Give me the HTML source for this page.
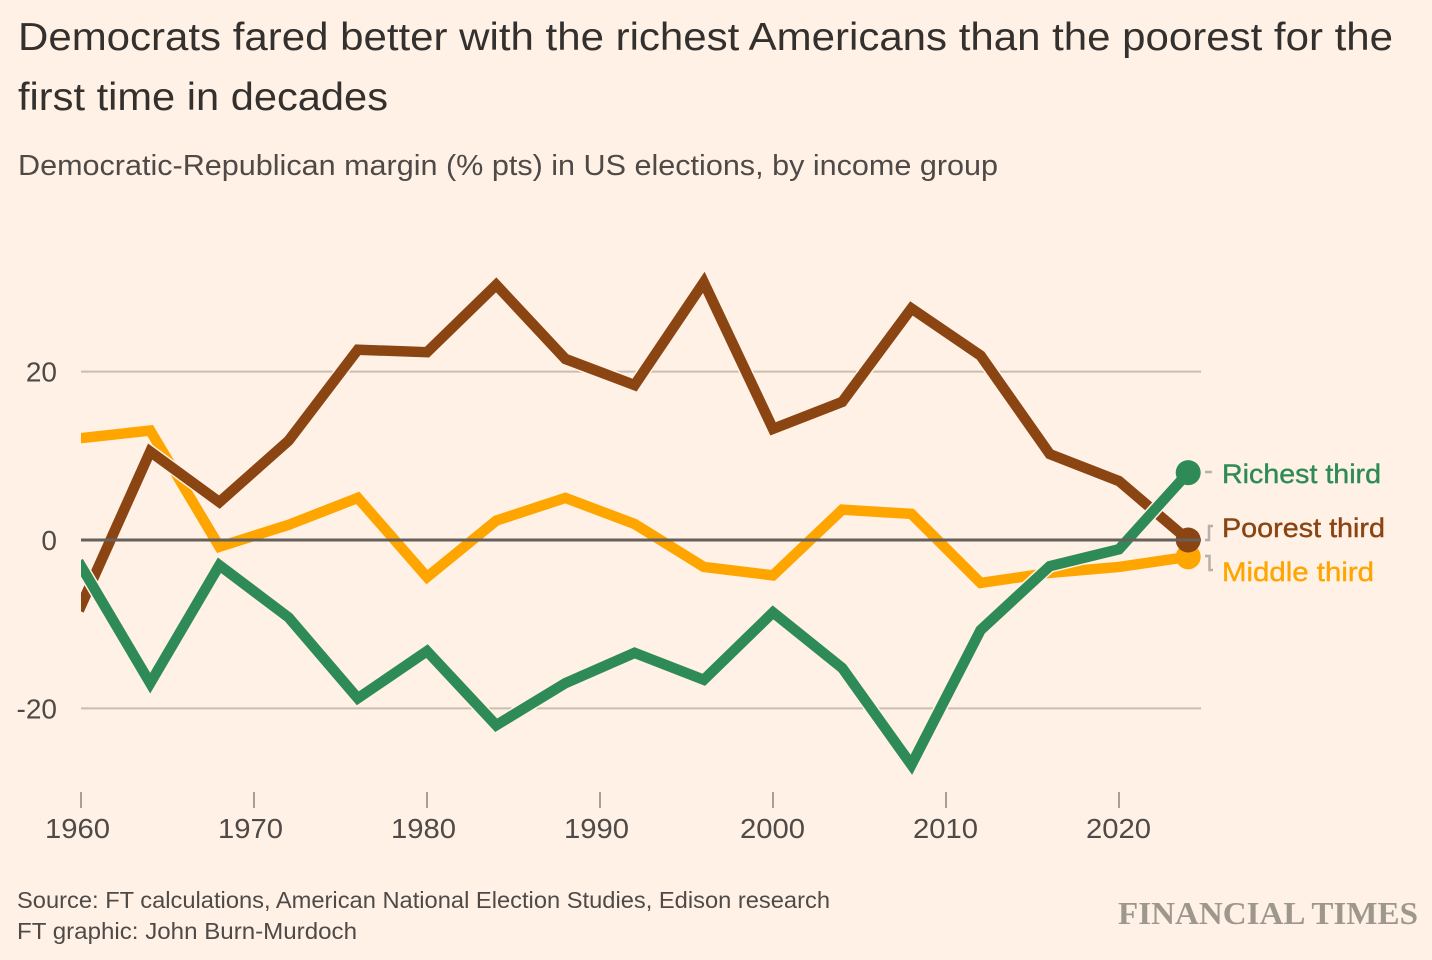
<!DOCTYPE html>
<html lang="en">
<head>
<meta charset="utf-8">
<title>Democrats fared better with the richest Americans</title>
<style>
html,body{margin:0;padding:0;background:#fff1e5;width:1432px;height:960px;overflow:hidden}
svg{display:block;font-family:"Liberation Sans",sans-serif}
</style>
</head>
<body>
<svg id="chart" width="1432" height="960" viewBox="0 0 1432 960" xmlns="http://www.w3.org/2000/svg">
  <rect width="1432" height="960" fill="#fff1e5"/>
  <text x="18" y="50" font-size="39" fill="#33302e" textLength="1375" lengthAdjust="spacingAndGlyphs">Democrats fared better with the richest Americans than the poorest for the</text>
  <text x="18" y="110" font-size="39" fill="#33302e" textLength="370" lengthAdjust="spacingAndGlyphs">first time in decades</text>
  <text x="18" y="175" font-size="29" fill="#4f4a47" textLength="980" lengthAdjust="spacingAndGlyphs">Democratic-Republican margin (% pts) in US elections, by income group</text>
  <defs>
    <clipPath id="plot-clip"><rect x="81" y="200" width="1130" height="620"/></clipPath>
  </defs>
  <g id="grid"></g>
  <g id="x-axis"></g>
  <g id="y-axis"></g>
  <g id="series" clip-path="url(#plot-clip)"></g>
  <g id="zero"></g>
  <g fill="none" stroke="#b5b0aa" stroke-width="2.5">
    <path d="M1205 472H1212"/>
    <path d="M1205 540H1209V526H1213"/>
    <path d="M1205 556H1209.500V570H1213"/>
  </g>
  <text x="1222" y="483" font-size="27" font-weight="400" fill="#2e8b57" textLength="159" lengthAdjust="spacingAndGlyphs" stroke="#2e8b57" stroke-width="0.4">Richest third</text>
  <text x="1222" y="537" font-size="27" font-weight="400" fill="#8b4513" textLength="163" lengthAdjust="spacingAndGlyphs" stroke="#8b4513" stroke-width="0.4">Poorest third</text>
  <text x="1222" y="581" font-size="27" font-weight="400" fill="#ffa500" textLength="152" lengthAdjust="spacingAndGlyphs" stroke="#ffa500" stroke-width="0.4">Middle third</text>
  <text x="17" y="908" font-size="23.500" fill="#4f4a47" textLength="813" lengthAdjust="spacingAndGlyphs">Source: FT calculations, American National Election Studies, Edison research</text>
  <text x="17" y="939" font-size="23.500" fill="#4f4a47" textLength="340" lengthAdjust="spacingAndGlyphs">FT graphic: John Burn-Murdoch</text>
  <text x="1118" y="924" font-size="32" font-weight="700" fill="#9e978e" style="font-family:'Liberation Serif',serif" textLength="300" lengthAdjust="spacingAndGlyphs">FINANCIAL TIMES</text>
</svg>
<script>
const years = [1960,1964,1968,1972,1976,1980,1984,1988,1992,1996,2000,2004,2008,2012,2016,2020,2024];
const poorestThird = [-7.8,10.5,4.5,11.8,22.6,22.3,30.3,21.5,18.4,30.6,13.2,16.4,27.5,21.9,10.2,7,0];
const middleThird = [12.1,13,-0.8,1.8,5,-4.4,2.3,5,1.9,-3.2,-4.2,3.6,3.1,-5.1,-3.9,-3.2,-2];
const richestThird = [-3.1,-17,-3,-9.2,-18.8,-13.2,-22,-17,-13.4,-16.6,-8.6,-15.2,-26.7,-10.7,-3.1,-1.1,8];
const xTicks = [1960,1970,1980,1990,2000,2010,2020];
const yTicks = [20,0,-20];

const NS = 'http://www.w3.org/2000/svg';
const xScale = function (year) { return 81 + (year - 1960) * 17.3; };
const yScale = function (value) { return 540 - value * 8.42; };
const make = function (tag, parent) {
  const el = document.createElementNS(NS, tag);
  parent.appendChild(el);
  return el;
};

const gridGroup = document.getElementById('grid');
const yGroup = document.getElementById('y-axis');
const xGroup = document.getElementById('x-axis');
const seriesGroup = document.getElementById('series');
const zeroGroup = document.getElementById('zero');

yTicks.forEach(function (tick) {
  const label = make('text', yGroup);
  
  
  label.setAttribute('x', 57);
  label.setAttribute('y', yScale(tick) + 10);
  label.setAttribute('text-anchor', 'end');
  label.setAttribute('font-size', 28);
  label.setAttribute('fill', '#4f4a47');
  label.textContent = String(tick);
  if (tick !== 0) {
    const line = make('line', gridGroup);
    
    
    line.setAttribute('x1', 81);
    line.setAttribute('x2', 1201);
    line.setAttribute('y1', yScale(tick));
    line.setAttribute('y2', yScale(tick));
    line.setAttribute('stroke', '#c9beb1');
    line.setAttribute('stroke-width', 2);
  }
});

xTicks.forEach(function (tick) {
  const mark = make('line', xGroup);
  
  
  mark.setAttribute('x1', xScale(tick));
  mark.setAttribute('x2', xScale(tick));
  mark.setAttribute('y1', 792);
  mark.setAttribute('y2', 808);
  mark.setAttribute('stroke', '#a8a097');
  mark.setAttribute('stroke-width', 2);
  const label = make('text', xGroup);
  
  
  label.setAttribute('x', xScale(tick) - (tick < 2000 ? 36 : 33));
  label.setAttribute('y', 838);
  label.setAttribute('font-size', 28);
  label.setAttribute('fill', '#4f4a47');
  label.setAttribute('textLength', 65);
  label.setAttribute('lengthAdjust', 'spacingAndGlyphs');
  label.textContent = String(tick);
});

const drawSeries = function (values, color, lineName, dotName) {
  const pts = values.map(function (v, i) { return xScale(years[i]) + ',' + yScale(v); }).join(' ');
  const halo = make('polyline', seriesGroup);
  
  
  halo.setAttribute('points', pts);
  halo.setAttribute('fill', 'none');
  halo.setAttribute('stroke', '#fff1e5');
  halo.setAttribute('stroke-width', 13.5);
  halo.setAttribute('stroke-linejoin', 'miter');
  halo.setAttribute('stroke-linecap', 'square');
  const line = make('polyline', seriesGroup);
  
  
  line.setAttribute('points', pts);
  line.setAttribute('fill', 'none');
  line.setAttribute('stroke', color);
  line.setAttribute('stroke-width', 10.5);
  line.setAttribute('stroke-linejoin', 'miter');
  line.setAttribute('stroke-linecap', 'square');
  const last = values.length - 1;
  const dot = make('circle', seriesGroup);
  
  
  dot.setAttribute('cx', xScale(years[last]));
  dot.setAttribute('cy', yScale(values[last]));
  dot.setAttribute('r', 12.5);
  dot.setAttribute('fill', color);
};

drawSeries(middleThird, '#ffa500', 'middle-third-line', 'middle-third-end-dot');
drawSeries(poorestThird, '#8b4513', 'poorest-third-line', 'poorest-third-end-dot');
drawSeries(richestThird, '#2e8b57', 'richest-third-line', 'richest-third-end-dot');

const zeroLine = make('line', zeroGroup);


zeroLine.setAttribute('x1', 81);
zeroLine.setAttribute('x2', 1201);
zeroLine.setAttribute('y1', yScale(0));
zeroLine.setAttribute('y2', yScale(0));
zeroLine.setAttribute('stroke', '#66605c');
zeroLine.setAttribute('stroke-width', 3);
</script>
</body>
</html>
